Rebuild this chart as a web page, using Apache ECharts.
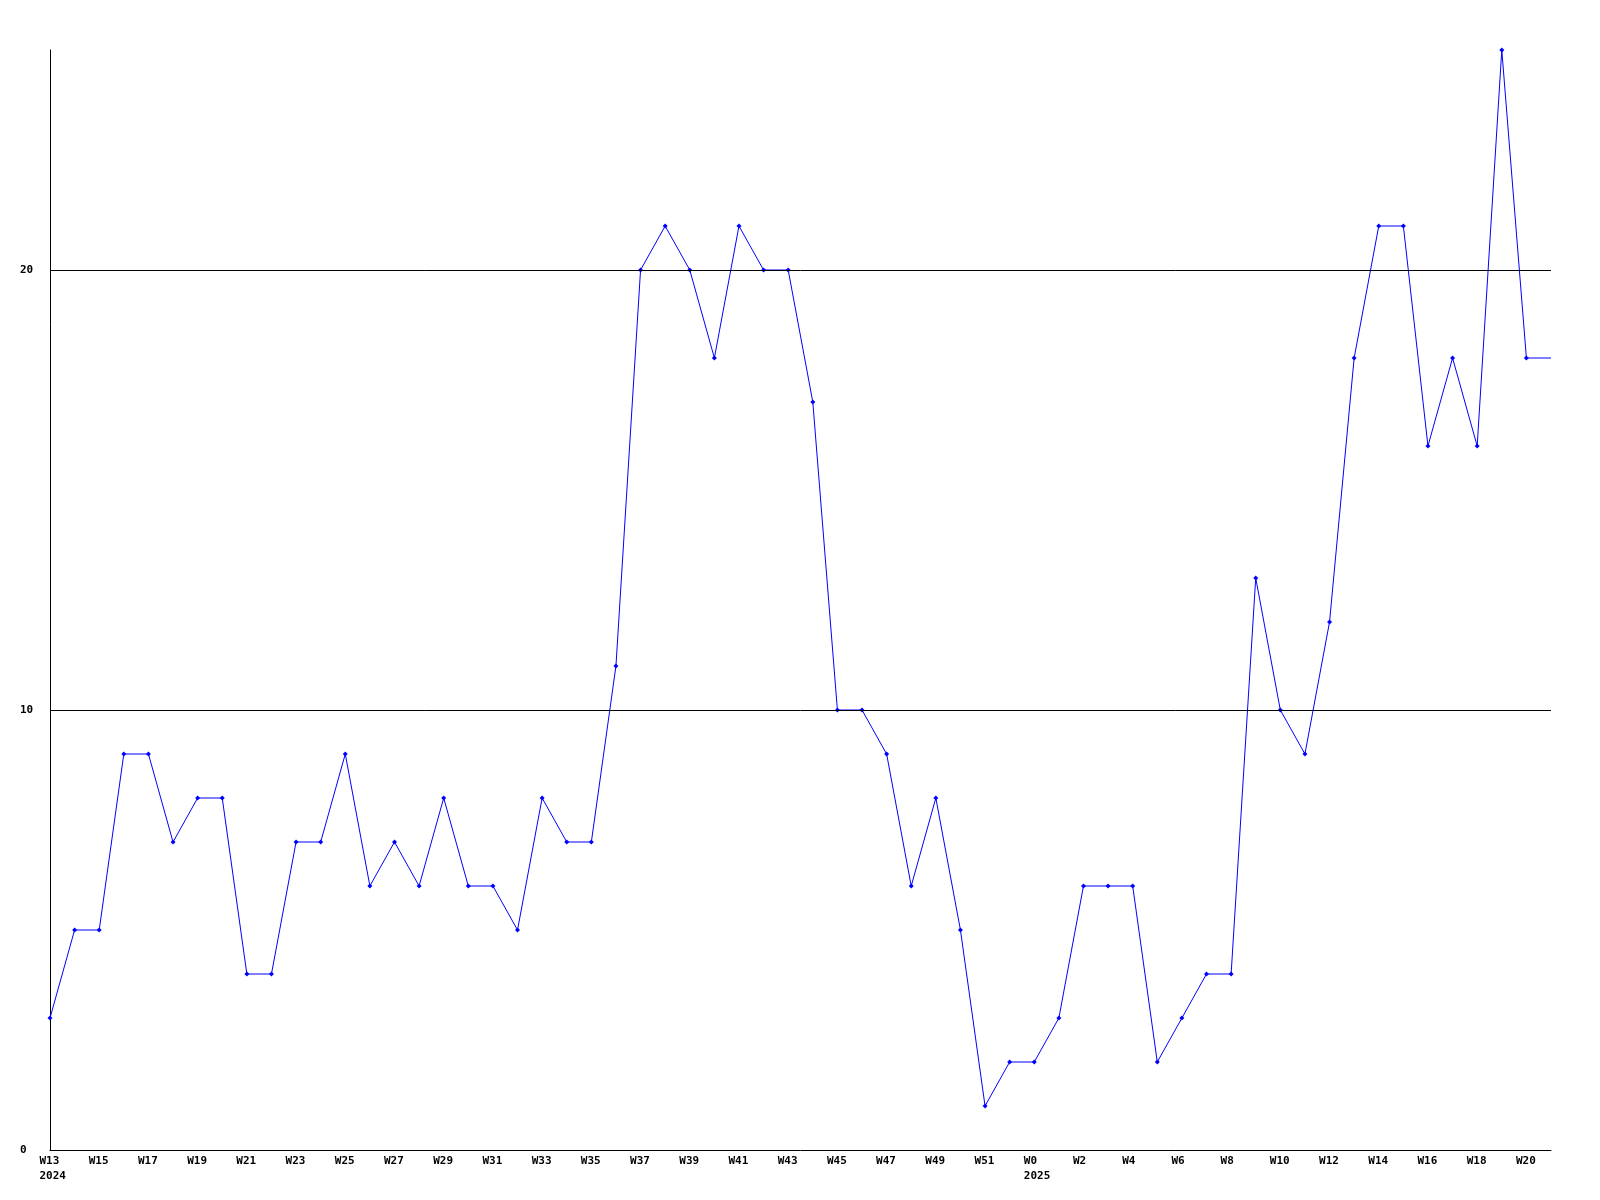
<!DOCTYPE html>
<html>
<head>
<meta charset="utf-8">
<script src="https://cdn.jsdelivr.net/npm/echarts@6/dist/echarts.min.js"></script>
<style>html,body{margin:0;padding:0;background:#fff}#c{width:1600px;height:1200px}</style>
</head>
<body>
<div id="c"></div>
<script>
const weeks = ['W13','W14','W15','W16','W17','W18','W19','W20','W21','W22','W23','W24','W25','W26','W27','W28','W29','W30','W31','W32','W33','W34','W35','W36','W37','W38','W39','W40','W41','W42','W43','W44','W45','W46','W47','W48','W49','W50','W51','W52',
  'W0','W1','W2','W3','W4','W5','W6','W7','W8','W9','W10','W11','W12','W13','W14','W15','W16','W17','W18','W19','W20','W21'];
const yearLabels = {0: '2024', 40: '2025'};
const values = [3,5,5,9,9,7,8,8,4,4,7,7,9,6,7,6,8,6,6,5,8,7,7,11,20,21,20,18,21,20,20,17,10,10,9,6,8,5,1,2,
  2,3,6,6,6,2,3,4,4,13,10,9,12,18,21,21,16,18,16,25,18,18];
const yTicks = [0, 10, 20];
const gridLines = [10, 20];

const font = "'DejaVu Sans Mono', 'Liberation Mono', monospace";
const chart = echarts.init(document.getElementById('c'), null, {renderer: 'canvas'});
chart.setOption({
  animation: false,
  backgroundColor: '#ffffff',
  grid: {left: 50, right: 49, top: 50, bottom: 50},
  xAxis: {
    type: 'category',
    data: weeks,
    boundaryGap: false,
    axisLine: {lineStyle: {color: '#000', width: 1}},
    axisTick: {show: false},
    axisLabel: {
      interval: 1,
      margin: 4,
      color: '#000',
      fontFamily: font,
      fontWeight: 'bold',
      fontSize: 11,
      lineHeight: 15,
      width: 21,
      overflow: 'none',
      align: 'center',
      rich: {
        a: {align: 'left', fontFamily: font, fontWeight: 'bold', fontSize: 11, lineHeight: 15, color: '#000'}
      },
      formatter: function (v, i) {
        return yearLabels[i] ? '{a|' + v + '}\n{a|' + yearLabels[i] + '}' : '{a|' + v + '}';
      }
    },
    splitLine: {show: false}
  },
  yAxis: {
    type: 'value',
    min: 0,
    max: 25,
    interval: 10,
    axisLine: {show: true, lineStyle: {color: '#000', width: 1}},
    axisTick: {show: false},
    splitLine: {show: false},
    axisLabel: {
      customValues: yTicks,
      align: 'left',
      margin: 30,
      color: '#000',
      fontFamily: font,
      fontWeight: 'bold',
      fontSize: 11
    }
  },
  series: [{
    type: 'line',
    data: values.map(function (v, i) {
      return i === values.length - 1 ? {value: v, symbol: 'none'} : v;
    }),
    symbol: 'diamond',
    symbolSize: 5,
    showAllSymbol: true,
    lineStyle: {color: '#0000ff', width: 1},
    itemStyle: {color: '#0000ff'},
    markLine: {
      silent: true,
      symbol: ['none', 'none'],
      label: {show: false},
      lineStyle: {color: '#000', width: 1, type: 'solid'},
      data: gridLines.map(function (g) { return {yAxis: g}; })
    }
  }]
});
</script>
</body>
</html>
